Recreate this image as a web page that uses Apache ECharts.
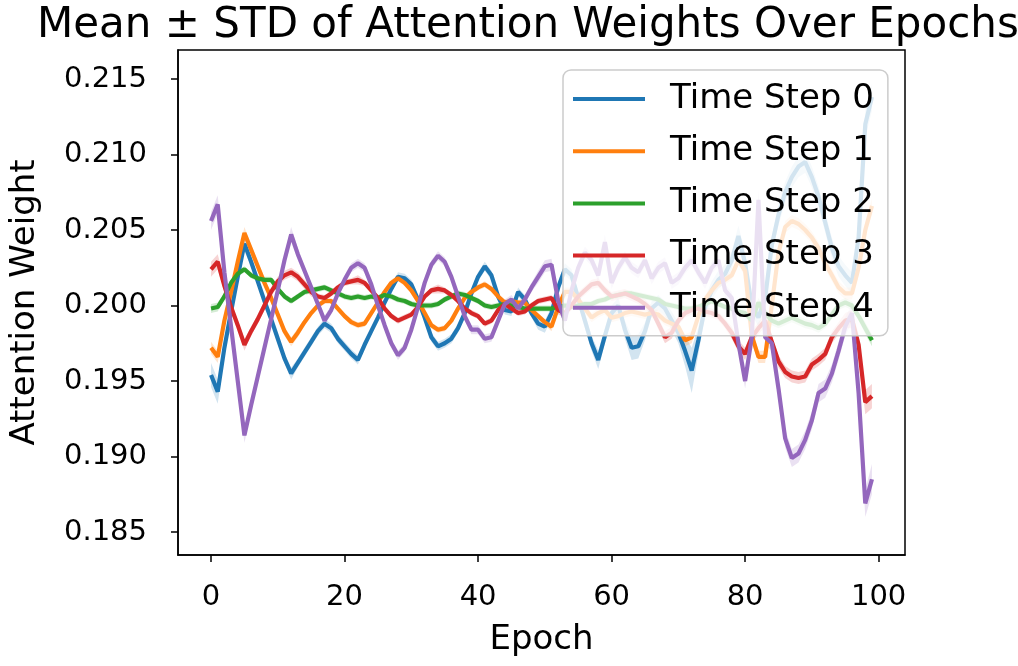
<!DOCTYPE html>
<html>
<head>
<meta charset="utf-8">
<script src="https://cdn.jsdelivr.net/npm/echarts@6/dist/echarts.min.js"></script>
<style>html,body{margin:0;padding:0;background:#fff}#c{width:1018px;height:666px}</style>
</head>
<body>
<div id="c"></div>
<script>
const epochs = [0,1,2,3,4,5,6,7,8,9,10,11,12,13,14,15,16,17,18,19,20,21,22,23,24,25,26,27,28,29,30,31,32,33,34,35,36,37,38,39,40,41,42,43,44,45,46,47,48,49,50,51,52,53,54,55,56,57,58,59,60,61,62,63,64,65,66,67,68,69,70,71,72,73,74,75,76,77,78,79,80,81,82,83,84,85,86,87,88,89,90,91,92,93,94,95,96,97,98,99];
const seriesNames = ['Time Step 0','Time Step 1','Time Step 2','Time Step 3','Time Step 4'];
const xTicks = [0,20,40,60,80,100];
const yTicks = [0.185,0.190,0.195,0.200,0.205,0.210,0.215];

const mean0 = [0.1954,0.1943,0.1972,0.1996,0.2019,0.2041,0.2029,0.2016,0.2003,0.1991,0.1978,0.1965,0.1955,0.1962,0.1969,0.1976,0.1983,0.1988,0.1985,0.1978,0.1973,0.1968,0.1964,0.1974,0.1983,0.1992,0.2002,0.2011,0.2019,0.2018,0.2014,0.2004,0.1992,0.1979,0.1973,0.1975,0.1978,0.1985,0.1995,0.2008,0.2019,0.2026,0.2020,0.2006,0.1997,0.1996,0.2009,0.2004,0.1995,0.1988,0.1986,0.1995,0.2012,0.2024,0.2020,0.2005,0.1990,0.1975,0.1964,0.1980,0.1995,0.2000,0.1984,0.1972,0.1973,0.1983,0.1998,0.2002,0.1998,0.1990,0.1982,0.1970,0.1957,0.1977,0.1999,0.2010,0.2017,0.2021,0.2030,0.2046,0.2028,0.2000,0.1992,0.2005,0.2040,0.2060,0.2075,0.2085,0.2092,0.2095,0.2085,0.2072,0.2055,0.2038,0.2026,0.2020,0.2015,0.2045,0.2120,0.2138];
const mean1 = [0.1972,0.1966,0.1990,0.2009,0.2029,0.2048,0.2037,0.2026,0.2015,0.2005,0.1994,0.1983,0.1976,0.1982,0.1989,0.1995,0.2000,0.2003,0.2003,0.1998,0.1993,0.1989,0.1987,0.1988,0.1995,0.2002,0.2009,0.2015,0.2018,0.2015,0.2010,0.2003,0.1995,0.1987,0.1984,0.1985,0.1990,0.1998,0.2005,0.2009,0.2012,0.2014,0.2011,0.2006,0.2002,0.2003,0.2002,0.2002,0.1997,0.1993,0.1989,0.1986,0.1999,0.2009,0.2009,0.2004,0.1998,0.1992,0.1995,0.1997,0.1992,0.1993,0.1995,0.1996,0.1995,0.1994,0.1995,0.1994,0.1990,0.1988,0.1986,0.1977,0.1979,0.1993,0.2004,0.2010,0.2015,0.2017,0.2020,0.2030,0.2023,0.1980,0.1966,0.1966,0.2000,0.2035,0.2052,0.2056,0.2054,0.2050,0.2045,0.2038,0.2028,0.2020,0.2012,0.2008,0.2008,0.2025,0.2050,0.2066];
const mean2 = [0.1998,0.1999,0.2006,0.2015,0.2021,0.2024,0.2020,0.2018,0.2017,0.2017,0.2011,0.2006,0.2003,0.2006,0.2009,0.2010,0.2011,0.2012,0.2010,0.2008,0.2006,0.2005,0.2006,0.2005,0.2006,0.2005,0.2007,0.2006,0.2004,0.2003,0.2001,0.2000,0.2000,0.2000,0.2001,0.2004,0.2006,0.2008,0.2007,0.2005,0.2003,0.2000,0.1999,0.2000,0.2001,0.2000,0.1999,0.1998,0.1998,0.1998,0.1998,0.1998,0.1999,0.2000,0.1999,0.2000,0.2001,0.2001,0.2003,0.2004,0.2006,0.2007,0.2008,0.2008,0.2007,0.2006,0.2005,0.2004,0.2001,0.2000,0.1999,0.1998,0.1998,0.1999,0.2001,0.2003,0.2001,0.1999,0.1998,0.1996,0.1995,0.1990,0.2002,0.1995,0.1990,0.1988,0.1990,0.1992,0.1990,0.1988,0.1987,0.1985,0.1988,0.1994,0.2000,0.2002,0.2000,0.1993,0.1985,0.1977];
const mean3 = [0.2024,0.2029,0.2013,0.1999,0.1987,0.1974,0.1983,0.1991,0.2000,0.2009,0.2016,0.2020,0.2022,0.2019,0.2014,0.2009,0.2006,0.2005,0.2008,0.2012,0.2015,0.2016,0.2017,0.2015,0.2010,0.2005,0.1998,0.1993,0.1990,0.1992,0.1994,0.1999,0.2006,0.2010,0.2011,0.2010,0.2007,0.2003,0.1998,0.1995,0.1993,0.1988,0.1990,0.1997,0.2001,0.1998,0.1995,0.1996,0.2000,0.2003,0.2004,0.2005,0.1997,0.1995,0.2000,0.2006,0.2010,0.2014,0.2015,0.2010,0.2006,0.2007,0.2008,0.2006,0.2004,0.2001,0.1997,0.1988,0.1979,0.1982,0.1990,0.1995,0.1997,0.1998,0.1996,0.1995,0.1993,0.1988,0.1982,0.1973,0.1968,0.1979,0.1985,0.1990,0.1976,0.1963,0.1956,0.1953,0.1952,0.1953,0.1961,0.1964,0.1968,0.1979,0.1985,0.1990,0.1991,0.1974,0.1936,0.1940];
const mean4 = [0.2056,0.2067,0.2022,0.1986,0.1950,0.1914,0.1934,0.1953,0.1972,0.1991,0.2010,0.2030,0.2047,0.2034,0.2023,0.2012,0.2001,0.1990,0.1997,0.2008,0.2017,0.2025,0.2028,0.2025,0.2014,0.2000,0.1987,0.1975,0.1967,0.1972,0.1984,0.1999,0.2015,0.2027,0.2033,0.2029,0.2019,0.2006,0.1993,0.1984,0.1984,0.1978,0.1979,0.1990,0.2001,0.2004,0.1998,0.2004,0.2012,0.2019,0.2026,0.2027,0.2003,0.1990,0.2010,0.2025,0.2035,0.2030,0.2020,0.2042,0.2015,0.2025,0.2032,0.2025,0.2022,0.2030,0.2018,0.2025,0.2028,0.2015,0.2018,0.2025,0.2030,0.2022,0.2015,0.2025,0.2030,0.2010,0.2005,0.1975,0.1950,0.1979,0.2070,0.1979,0.1975,0.1945,0.1912,0.1899,0.1902,0.1911,0.1924,0.1942,0.1945,0.1955,0.1970,0.1986,0.1995,0.1942,0.1869,0.1885];

const std0 = [0.0008,0.0008,0.0005,0.0004,0.0004,0.0005,0.0003,0.0003,0.0003,0.0003,0.0003,0.0003,0.0004,0.0003,0.0003,0.0003,0.0003,0.0003,0.0003,0.0003,0.0003,0.0003,0.0003,0.0003,0.0002,0.0002,0.0002,0.0002,0.0003,0.0003,0.0003,0.0003,0.0003,0.0003,0.0003,0.0003,0.0003,0.0003,0.0003,0.0003,0.0003,0.0003,0.0003,0.0003,0.0003,0.0003,0.0003,0.0003,0.0003,0.0004,0.0004,0.0004,0.0004,0.0004,0.0004,0.0004,0.0005,0.0005,0.0006,0.0005,0.0005,0.0005,0.0006,0.0008,0.0008,0.0006,0.0005,0.0005,0.0005,0.0006,0.0007,0.0010,0.0015,0.0009,0.0006,0.0006,0.0006,0.0006,0.0006,0.0007,0.0007,0.0006,0.0006,0.0006,0.0006,0.0007,0.0007,0.0007,0.0007,0.0007,0.0007,0.0007,0.0007,0.0007,0.0007,0.0007,0.0007,0.0008,0.0009,0.0009];
const std1 = [0.0004,0.0004,0.0003,0.0003,0.0003,0.0004,0.0003,0.0003,0.0003,0.0003,0.0003,0.0003,0.0003,0.0003,0.0002,0.0002,0.0002,0.0002,0.0002,0.0002,0.0002,0.0002,0.0002,0.0002,0.0002,0.0002,0.0002,0.0002,0.0002,0.0002,0.0002,0.0002,0.0002,0.0002,0.0002,0.0002,0.0002,0.0002,0.0002,0.0002,0.0002,0.0002,0.0002,0.0002,0.0002,0.0002,0.0002,0.0002,0.0002,0.0002,0.0002,0.0003,0.0003,0.0003,0.0003,0.0003,0.0003,0.0003,0.0003,0.0003,0.0003,0.0003,0.0003,0.0003,0.0003,0.0003,0.0003,0.0003,0.0003,0.0003,0.0003,0.0004,0.0004,0.0003,0.0003,0.0003,0.0003,0.0003,0.0003,0.0003,0.0004,0.0004,0.0004,0.0004,0.0004,0.0004,0.0004,0.0004,0.0004,0.0004,0.0004,0.0004,0.0004,0.0004,0.0004,0.0004,0.0004,0.0005,0.0005,0.0005];
const std2 = [0.0003,0.0003,0.0002,0.0002,0.0002,0.0002,0.0002,0.0002,0.0002,0.0002,0.0002,0.0002,0.0002,0.0002,0.0002,0.0002,0.0002,0.0002,0.0002,0.0002,0.0002,0.0002,0.0002,0.0002,0.0002,0.0002,0.0002,0.0002,0.0002,0.0002,0.0002,0.0002,0.0002,0.0002,0.0002,0.0002,0.0002,0.0002,0.0002,0.0002,0.0002,0.0002,0.0002,0.0002,0.0002,0.0002,0.0002,0.0002,0.0002,0.0002,0.0002,0.0002,0.0002,0.0002,0.0002,0.0002,0.0002,0.0002,0.0002,0.0002,0.0002,0.0002,0.0002,0.0002,0.0002,0.0002,0.0002,0.0002,0.0002,0.0002,0.0002,0.0002,0.0002,0.0002,0.0002,0.0002,0.0002,0.0002,0.0002,0.0003,0.0003,0.0003,0.0003,0.0003,0.0003,0.0003,0.0003,0.0003,0.0003,0.0003,0.0003,0.0003,0.0003,0.0003,0.0003,0.0003,0.0003,0.0003,0.0004,0.0004];
const std3 = [0.0005,0.0005,0.0004,0.0003,0.0003,0.0004,0.0003,0.0003,0.0003,0.0003,0.0003,0.0003,0.0003,0.0003,0.0003,0.0003,0.0002,0.0002,0.0002,0.0002,0.0002,0.0002,0.0003,0.0002,0.0002,0.0002,0.0002,0.0002,0.0002,0.0002,0.0002,0.0002,0.0002,0.0002,0.0003,0.0002,0.0002,0.0002,0.0002,0.0002,0.0002,0.0002,0.0002,0.0002,0.0002,0.0002,0.0002,0.0002,0.0002,0.0002,0.0002,0.0002,0.0003,0.0003,0.0003,0.0003,0.0003,0.0003,0.0003,0.0003,0.0003,0.0003,0.0003,0.0003,0.0003,0.0003,0.0003,0.0004,0.0004,0.0004,0.0003,0.0003,0.0003,0.0003,0.0003,0.0003,0.0003,0.0003,0.0004,0.0004,0.0004,0.0004,0.0004,0.0004,0.0004,0.0004,0.0004,0.0004,0.0004,0.0004,0.0004,0.0004,0.0004,0.0004,0.0004,0.0005,0.0006,0.0007,0.0008,0.0008];
const std4 = [0.0006,0.0006,0.0005,0.0004,0.0004,0.0005,0.0004,0.0004,0.0004,0.0004,0.0004,0.0004,0.0005,0.0004,0.0003,0.0003,0.0003,0.0003,0.0003,0.0003,0.0003,0.0003,0.0003,0.0003,0.0003,0.0003,0.0003,0.0003,0.0003,0.0003,0.0003,0.0003,0.0003,0.0003,0.0003,0.0003,0.0003,0.0003,0.0003,0.0003,0.0003,0.0003,0.0003,0.0003,0.0003,0.0003,0.0003,0.0003,0.0003,0.0004,0.0004,0.0004,0.0004,0.0004,0.0004,0.0004,0.0004,0.0004,0.0004,0.0005,0.0004,0.0004,0.0004,0.0004,0.0004,0.0004,0.0004,0.0004,0.0004,0.0004,0.0004,0.0004,0.0004,0.0004,0.0004,0.0004,0.0004,0.0004,0.0004,0.0005,0.0005,0.0005,0.0007,0.0005,0.0005,0.0006,0.0006,0.0006,0.0006,0.0006,0.0006,0.0006,0.0006,0.0006,0.0006,0.0006,0.0006,0.0007,0.0009,0.0010];

const means = [mean0, mean1, mean2, mean3, mean4];
const stds = [std0, std1, std2, std3, std4];
const colors = ['#1f77b4','#ff7f0e','#2ca02c','#d62728','#9467bd'];
const FONT = 'DejaVu Sans';

const series = [];
means.forEach((m, k) => {
  const s = stds[k];
  series.push({
    name: seriesNames[k], type: 'line', symbol: 'none', z: 3,
    data: epochs.map((e, i) => [e, m[i]]),
    lineStyle: { color: colors[k], width: 4.2 }, itemStyle: { color: colors[k] }
  });
  series.push({
    name: 'band' + k, type: 'custom', silent: true, z: 3,
    data: epochs.map((e, i) => [e, m[i] - s[i], m[i] + s[i]]),
    encode: { x: 0, y: [1, 2] },
    renderItem: function (params, api) {
      if (params.dataIndex !== 0) return null;
      const pts = [];
      for (let i = 0; i < epochs.length; i++) pts.push(api.coord([epochs[i], m[i] + s[i]]));
      for (let i = epochs.length - 1; i >= 0; i--) pts.push(api.coord([epochs[i], m[i] - s[i]]));
      return { type: 'polygon', shape: { points: pts }, style: { fill: colors[k], opacity: 0.2 } };
    }
  });
});

const chart = echarts.init(document.getElementById('c'), null, { renderer: 'canvas' });
chart.setOption({
  animation: false,
  backgroundColor: '#ffffff',
  title: {
    text: 'Mean \u00b1 STD of Attention Weights Over Epochs',
    left: 32, top: 0,
    textStyle: { fontFamily: FONT, fontSize: 42, fontWeight: 'normal', color: '#000' }
  },
  legend: {
    data: seriesNames,
    icon: 'rect',
    orient: 'vertical', left: 563, top: 70,
    padding: [9, 14, 8, 10],
    itemWidth: 72, itemHeight: 4, itemGap: 12.2,
    backgroundColor: 'rgba(255,255,255,0.8)',
    borderColor: '#cccccc', borderWidth: 1.5, borderRadius: 8,
    textStyle: { fontFamily: FONT, fontSize: 34, color: '#000', lineHeight: 40, padding: [0, 0, 0, 20] }
  },
  grid: { left: 175, right: 113, top: 50, bottom: 111, show: true, borderColor: '#000', borderWidth: 1.5, backgroundColor: 'transparent' },
  xAxis: {
    type: 'value', min: -4.95, max: 103.95,
    name: 'Epoch', nameLocation: 'middle', nameGap: 68,
    nameTextStyle: { fontFamily: FONT, fontSize: 34, color: '#000' },
    axisLine: { show: true, onZero: false, lineStyle: { color: '#000', width: 1.5 } },
    axisTick: { show: true, length: 7, lineStyle: { color: '#000', width: 1.5 }, customValues: xTicks },
    axisLabel: { fontFamily: FONT, fontSize: 29, color: '#000', margin: 28, customValues: xTicks },
    splitLine: { show: false }
  },
  yAxis: {
    type: 'value', min: 0.18348, max: 0.21692,
    name: 'Attention Weight', nameLocation: 'middle', nameGap: 136,
    nameTextStyle: { fontFamily: FONT, fontSize: 34, color: '#000' },
    axisLine: { show: true, onZero: false, lineStyle: { color: '#000', width: 1.5 } },
    axisTick: { show: true, length: 7, lineStyle: { color: '#000', width: 1.5 }, customValues: yTicks },
    axisLabel: { fontFamily: FONT, fontSize: 29, color: '#000', margin: 31, customValues: yTicks, formatter: v => v.toFixed(3) },
    splitLine: { show: false }
  },
  series: series
});
</script>
</body>
</html>
